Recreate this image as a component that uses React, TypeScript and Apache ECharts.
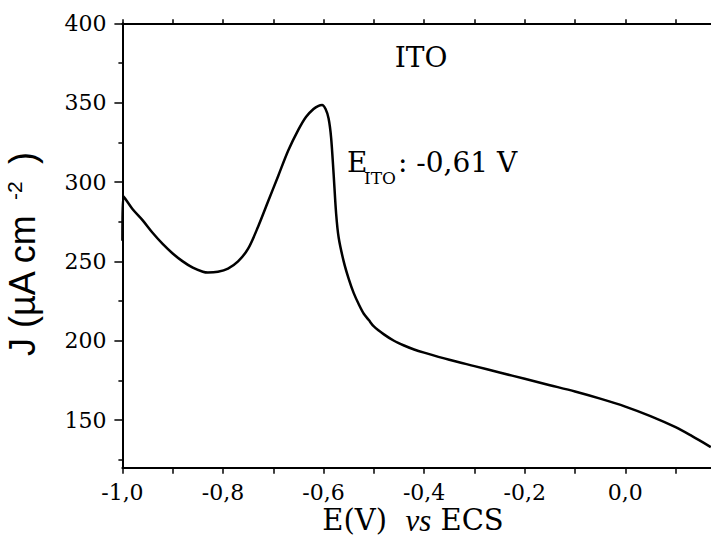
import React, { useEffect, useRef } from "react";
import * as echarts from "echarts";

// ---- data ----
const potentialV = [
  -1.0, -0.998, -0.98, -0.96, -0.94, -0.92, -0.9, -0.88, -0.86, -0.84, -0.83, -0.81, -0.79, -0.77,
  -0.75, -0.73, -0.71, -0.69, -0.67, -0.65, -0.635, -0.62, -0.61, -0.603, -0.596, -0.59, -0.585,
  -0.58, -0.575, -0.57, -0.56, -0.55, -0.54, -0.53, -0.52, -0.51, -0.5, -0.48, -0.46, -0.44, -0.42,
  -0.4, -0.35, -0.3, -0.25, -0.2, -0.15, -0.1, -0.05, 0.0, 0.05, 0.1, 0.132, 0.17,
];
const currentDensity = [
  263, 291, 283, 276, 268, 261, 255, 250, 246, 243.5, 243, 243.5, 245.5, 250,
  258, 272, 288, 304, 320, 333, 341, 346, 348, 348.5, 346, 340, 328,
  305, 280, 265, 250, 239, 230, 223, 217, 213, 209, 204, 200, 197, 194.5,
  192.5, 188, 184, 180, 176, 172, 168, 163.5, 158.5, 152.5, 145.5, 140, 133,
];

const xTickValues = [-1.0, -0.9, -0.8, -0.7, -0.6, -0.5, -0.4, -0.3, -0.2, -0.1, 0.0, 0.1];
const xLabelValues = [-1.0, -0.8, -0.6, -0.4, -0.2, 0.0];
const yLabelValues = [150, 200, 250, 300, 350, 400];
const yMinorValues = [125, 175, 225, 275, 325, 375];

const X_MIN = -1.0;
const X_MAX = 0.1704;
const Y_MIN = 120;
const Y_MAX = 400;

const SERIF = "DejaVu Serif";
const ITALIC_SERIF = "Liberation Serif";
const SANS = "Liberation Sans";

const fmtX = (v: number) => {
  if (Math.abs(v) < 1e-9) return "0,0";
  return v.toFixed(1).replace(".", ",");
};

export default function App() {
  const ref = useRef<HTMLDivElement>(null);

  useEffect(() => {
    document.body.style.margin = "0";
    if (!ref.current) return;
    const chart = echarts.init(ref.current, undefined, { renderer: "svg" });

    const data = potentialV.map((x, i) => [x, currentDensity[i]]);
    const gridRect = { left: 122.4, top: 23.3, right: -20, bottom: 70.3 };
    const axisLine = { show: true, onZero: false, lineStyle: { color: "#000", width: 2 } };

    chart.setOption({
      animation: false,
      backgroundColor: "#fff",
      grid: [
        { ...gridRect, containLabel: false },
        { ...gridRect, containLabel: false },
      ],
      xAxis: [
        {
          type: "value",
          gridIndex: 0,
          min: X_MIN,
          max: X_MAX,
          position: "bottom",
          axisLine,
          axisTick: {
            show: true,
            customValues: xTickValues,
            length: 6,
            inside: false,
            lineStyle: { color: "#000", width: 1.5 },
          },
          axisLabel: {
            show: true,
            customValues: xLabelValues,
            formatter: fmtX,
            fontFamily: SERIF,
            fontSize: 22,
            color: "#000",
            margin: 14,
          },
          splitLine: { show: false },
        },
        {
          type: "value",
          gridIndex: 1,
          min: X_MIN,
          max: X_MAX,
          position: "top",
          axisLine,
          axisTick: {
            show: true,
            customValues: xTickValues,
            length: 4,
            inside: false,
            lineStyle: { color: "#000", width: 1.5 },
          },
          axisLabel: { show: false },
          splitLine: { show: false },
        },
      ],
      yAxis: [
        {
          type: "value",
          gridIndex: 0,
          min: Y_MIN,
          max: Y_MAX,
          position: "left",
          axisLine,
          axisTick: {
            show: true,
            customValues: yLabelValues,
            length: 8,
            inside: false,
            lineStyle: { color: "#000", width: 1.5 },
          },
          axisLabel: {
            show: true,
            customValues: yLabelValues,
            fontFamily: SERIF,
            fontSize: 22,
            color: "#000",
            margin: 16,
          },
          splitLine: { show: false },
        },
        {
          type: "value",
          gridIndex: 1,
          min: Y_MIN,
          max: Y_MAX,
          position: "left",
          axisLine: { show: false, onZero: false },
          axisTick: {
            show: true,
            customValues: yMinorValues,
            length: 4,
            inside: false,
            lineStyle: { color: "#000", width: 1.5 },
          },
          axisLabel: { show: false },
          splitLine: { show: false },
        },
      ],
      series: [
        {
          type: "line",
          xAxisIndex: 0,
          yAxisIndex: 0,
          data,
          showSymbol: false,
          smooth: 0.3,
          lineStyle: { color: "#000", width: 2.5 },
        },
      ],
      graphic: [
        {
          type: "text",
          x: 421,
          y: 57,
          style: {
            text: "ITO",
            font: `28px "${SERIF}"`,
            fill: "#000",
            align: "center",
            verticalAlign: "middle",
          },
        },
        {
          type: "text",
          x: 347,
          y: 162,
          style: {
            text: "E",
            font: `28px "${SERIF}"`,
            fill: "#000",
            align: "left",
            verticalAlign: "middle",
          },
        },
        {
          type: "text",
          x: 364,
          y: 178,
          style: {
            text: "ITO",
            font: `17px "${SERIF}"`,
            fill: "#000",
            align: "left",
            verticalAlign: "middle",
          },
        },
        {
          type: "text",
          x: 398,
          y: 162,
          style: {
            text: ": -0,61 V",
            font: `28px "${SERIF}"`,
            fill: "#000",
            align: "left",
            verticalAlign: "middle",
          },
        },
        // y axis title (rotated)
        {
          type: "text",
          x: 22,
          y: 356,
          rotation: Math.PI / 2,
          style: {
            text: "J (\u00b5A cm",
            font: `36px "${SANS}"`,
            fill: "#000",
            align: "left",
            verticalAlign: "middle",
          },
        },
        {
          type: "text",
          x: 14.5,
          y: 200,
          rotation: Math.PI / 2,
          style: {
            text: "-2",
            font: `21px "${SANS}"`,
            fill: "#000",
            align: "left",
            verticalAlign: "middle",
          },
        },
        {
          type: "text",
          x: 22,
          y: 164,
          rotation: Math.PI / 2,
          style: {
            text: ")",
            font: `36px "${SANS}"`,
            fill: "#000",
            align: "left",
            verticalAlign: "middle",
          },
        },
        // x axis title
        {
          type: "text",
          x: 413,
          y: 520,
          style: {
            text: "{n|E(V)}  {i|vs} {n|ECS}",
            align: "center",
            verticalAlign: "middle",
            font: `29px "${SERIF}"`,
            fill: "#000",
            rich: {
              n: { fontFamily: SERIF, fontSize: 29, color: "#000" },
              i: { fontFamily: ITALIC_SERIF, fontSize: 31, fontStyle: "italic", color: "#000" },
            },
          },
        },
      ],
    });

    return () => {
      chart.dispose();
    };
  }, []);

  return <div ref={ref} style={{ width: 711, height: 538, overflow: "hidden" }} />;
}
